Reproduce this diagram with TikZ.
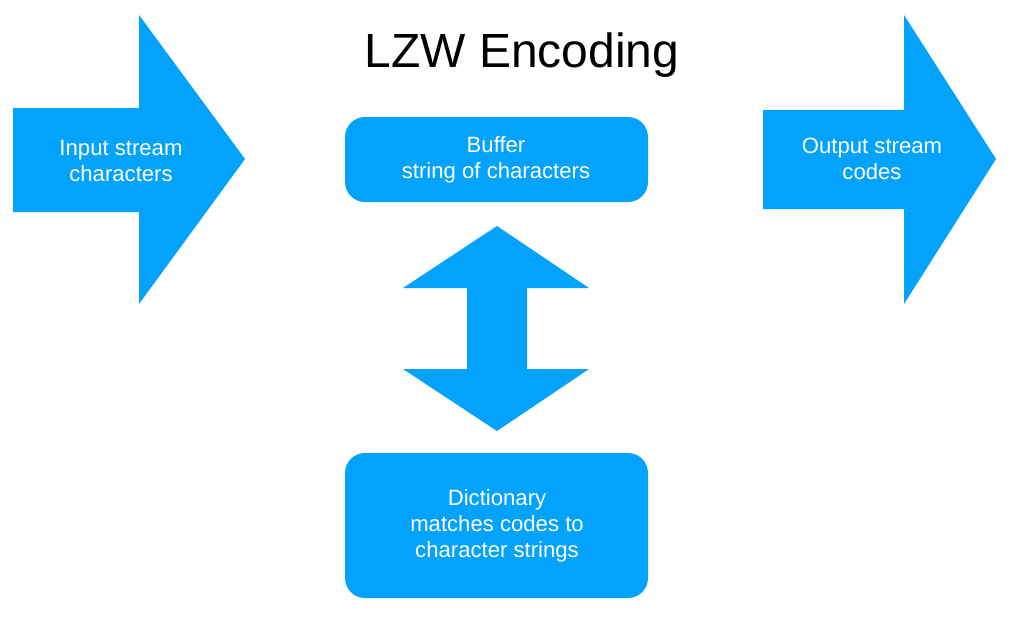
\documentclass[tikz,border=0pt]{standalone}
\usepackage{fontspec}
\setmainfont{Liberation Sans}
\usepackage{xcolor}
\usepackage{tikz}
\usetikzlibrary{positioning,calc}

\definecolor{lzwblue}{RGB}{3,162,253}

\tikzset{
    shapefill/.style={fill=lzwblue, draw=none},
    boxtext/.style={text=white, align=center, font=\fontsize{12.6}{14.8}\selectfont, inner sep=0pt},
    titletext/.style={text=black, font=\fontsize{27.3}{32}\selectfont, inner sep=0pt}
}

\begin{document}
\begin{tikzpicture}[x=0.02cm, y=-0.02cm]
    \useasboundingbox (0,0) rectangle (1023,625);

    % Title
    \node[titletext] (title) at (522,55.5) {LZW Encoding};

    % Input and output arrows
    \fill[shapefill] (13,108) -- (139,108) -- (139,15) -- (245,159) -- (139,304) -- (139,212) -- (13,212) -- cycle;
    \fill[shapefill] (763,110) -- (904,110) -- (904,15) -- (996,159) -- (904,304) -- (904,209) -- (763,209) -- cycle;
    \node[boxtext] (input) at (121,161) {Input stream\\characters};
    \node[boxtext] (output) at (872,159) {Output stream\\codes};

    % Buffer and dictionary
    \fill[shapefill, rounded corners=0.4cm] (345,117) rectangle (648,202);
    \node[boxtext] (buffer) at (496,160) {Buffer\\string of characters};
    \fill[shapefill, rounded corners=0.4cm] (345,453) rectangle (648,598);
    \node[boxtext] (dict) at (497,526) {Dictionary\\matches codes to\\character strings};

    % Double arrow between them
    \fill[shapefill] (497,226) -- (589,288) -- (527,288) -- (527,369) -- (589,369) -- (497,431)
        -- (403,369) -- (467,369) -- (467,288) -- (403,288) -- cycle;
\end{tikzpicture}
\end{document}
